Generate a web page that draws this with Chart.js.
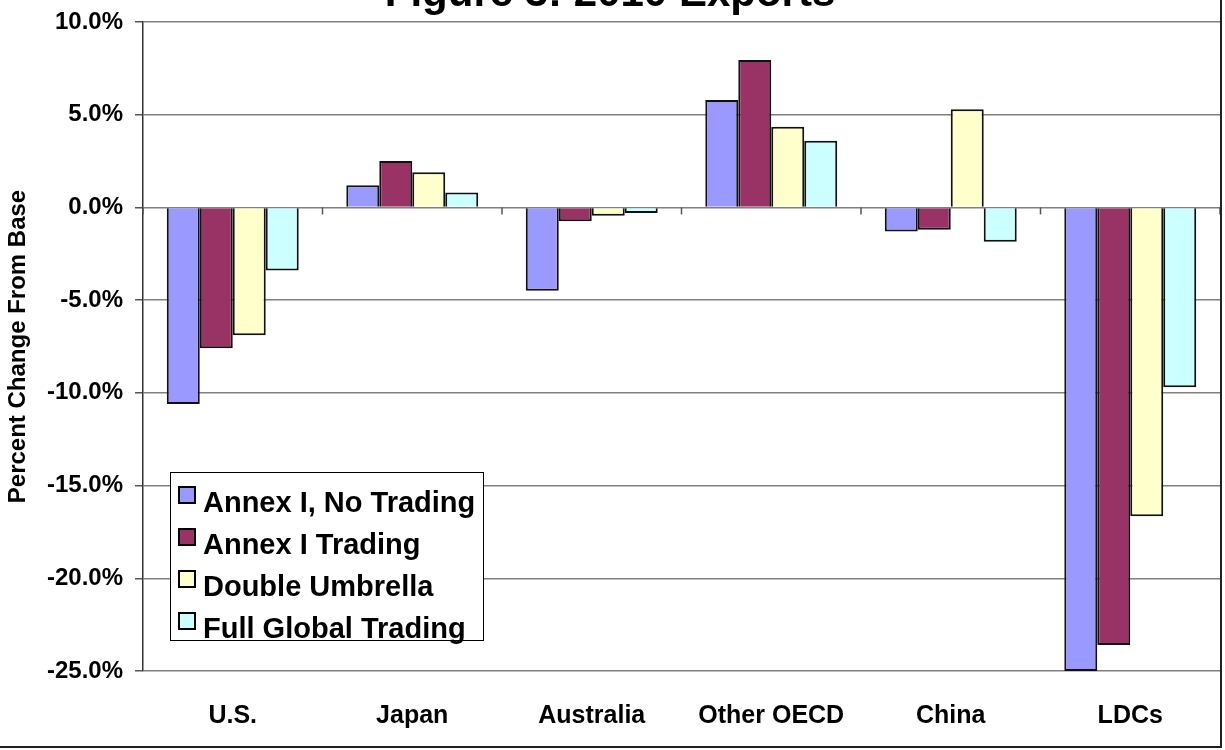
<!DOCTYPE html>
<html lang="en">
<head>
    <meta charset="UTF-8">
    <title>Figure 3: 2010 Exports</title>
    <script src="https://cdn.jsdelivr.net/npm/chart.js"></script>
    <style>
        body { margin: 0; background: #fff; }
        #wrap { position: relative; width: 1220px; height: 746px; border-right: 2px solid #222; border-bottom: 2px solid #222; }
        #legend { position: absolute; left: 170px; top: 472px; width: 314px; height: 169px; background: #fff;
                  border: 1.5px solid #000; padding-top: 8px; box-sizing: border-box;
                  font: bold 29px "Liberation Sans", Arial, sans-serif; color: #000; }
        .item { height: 42px; line-height: 42px; white-space: nowrap; position: relative; padding-left: 32px; }
        .box { position: absolute; left: 7px; top: 5px; width: 18px; height: 18px; border: 2px solid #000; box-sizing: border-box; }
    </style>
</head>
<body>
    <div id="wrap">
        <canvas id="chart" width="1220" height="746"></canvas>
        <div id="legend"></div>
    </div>

    <script>
        const categories = ['U.S.', 'Japan', 'Australia', 'Other OECD', 'China', 'LDCs'];
        const seriesNames = ['Annex I, No Trading', 'Annex I Trading', 'Double Umbrella', 'Full Global Trading'];
        const noTrading     = [-10.6, 1.2, -4.5, 5.8, -1.3, -25.0];
        const annexTrading  = [-7.6, 2.5, -0.75, 7.95, -1.2, -23.6];
        const doubleUmbrella = [-6.9, 1.9, -0.45, 4.35, 5.3, -16.65];
        const globalTrading = [-3.4, 0.8, -0.3, 3.6, -1.85, -9.7];
        const colors = ['#9999FF', '#993366', '#FFFFCC', '#CCFFFF'];
        const yTicks = [10, 5, 0, -5, -10, -15, -20, -25];

        const seriesData = [noTrading, annexTrading, doubleUmbrella, globalTrading];
        const font = '"Liberation Sans", Arial, sans-serif';

        // small tick marks on the zero line between categories, plus the cropped title
        const extras = {
            id: 'extras',
            afterDraw(chart) {
                const ctx = chart.ctx;
                const x = chart.scales.x, y = chart.scales.y;
                const y0 = y.getPixelForValue(0);
                ctx.save();
                ctx.strokeStyle = '#555';
                ctx.lineWidth = 1.5;
                for (let i = 0; i <= categories.length; i++) {
                    const px = x.getPixelForValue(i - 0.5);
                    ctx.beginPath();
                    ctx.moveTo(px, y0);
                    ctx.lineTo(px, y0 + 7);
                    ctx.stroke();
                }
                ctx.fillStyle = '#000';
                ctx.font = 'bold 42px ' + font;
                ctx.textAlign = 'center';
                ctx.textBaseline = 'alphabetic';
                ctx.fillText('Figure 3: 2010 Exports', chart.width / 2, 6);
                ctx.restore();
            }
        };

        new Chart(document.getElementById('chart'), {
            type: 'bar',
            data: {
                labels: categories,
                datasets: seriesNames.map((name, i) => ({
                    label: name,
                    data: seriesData[i],
                    backgroundColor: colors[i],
                    borderColor: '#111',
                    borderWidth: 2,
                    categoryPercentage: 0.735,
                    barPercentage: 1
                }))
            },
            options: {
                responsive: false,
                animation: false,
                layout: { padding: { top: 22, right: 0, bottom: 0, left: 0 } },
                plugins: { legend: { display: false }, tooltip: { enabled: false } },
                scales: {
                    x: {
                        grid: { display: false, drawTicks: false },
                        border: { display: false },
                        ticks: { color: '#000', font: { family: font, size: 25, weight: 'bold' }, padding: 30 },
                        afterFit: s => { s.height = 75; }
                    },
                    y: {
                        min: -25, max: 10,
                        afterBuildTicks: s => { s.ticks = yTicks.map(v => ({ value: v })); },
                        ticks: {
                            color: '#000',
                            font: { family: font, size: 24, weight: 'bold' },
                            padding: 12,
                            callback: v => v.toFixed(1) + '%'
                        },
                        grid: { color: '#808080', lineWidth: 1.5, tickLength: 8, tickColor: '#555' },
                        border: { display: true, color: '#333', width: 1.5 },
                        title: {
                            display: true,
                            text: 'Percent Change From Base',
                            color: '#000',
                            font: { family: font, size: 24, weight: 'bold' },
                            padding: { top: 4, bottom: 4 }
                        },
                        afterFit: s => { s.width = 143; s.paddingTop = 0; s.paddingBottom = 0; }
                    }
                }
            },
            plugins: [extras]
        });

        const legend = document.getElementById('legend');
        seriesNames.forEach((name, i) => {
            const row = document.createElement('div');
            row.className = 'item';
            row.innerHTML = '<span class="box" style="background:' + colors[i] + '"></span>' + name;
            legend.appendChild(row);
        });
    </script>
</body>
</html>
